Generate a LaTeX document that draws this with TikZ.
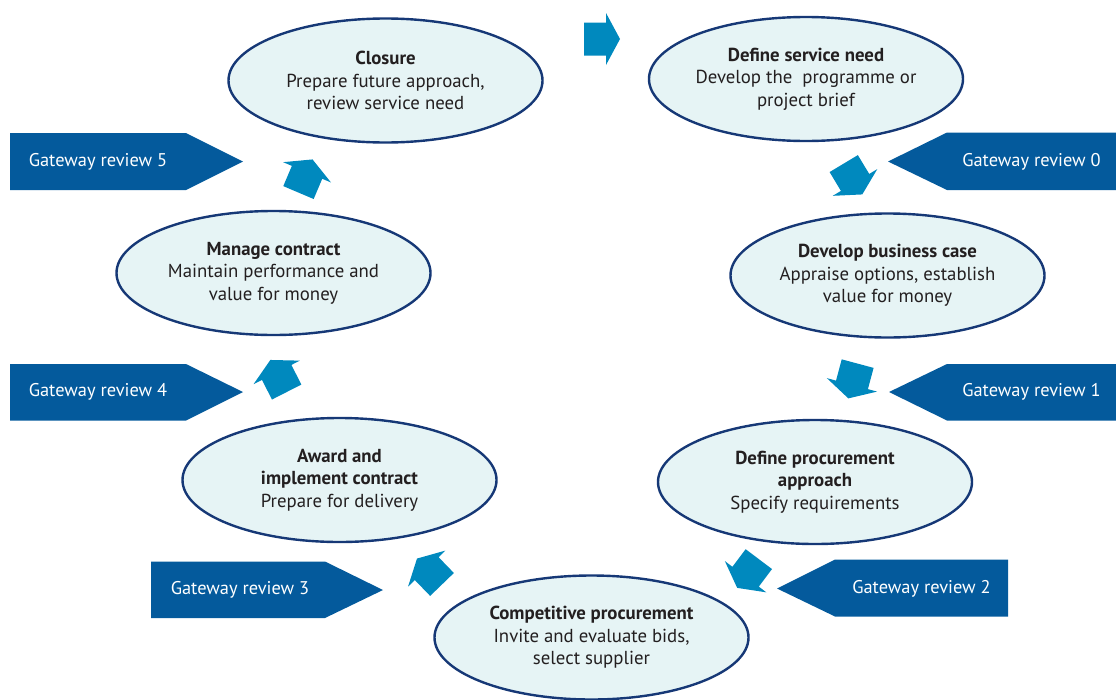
\documentclass[tikz,border=0pt]{standalone}
\usepackage{fontspec}
\setmainfont{PT Sans}
\usetikzlibrary{shapes.geometric}
\definecolor{gatewayblue}{RGB}{4,90,156}
\definecolor{arrowblue}{RGB}{0,137,190}
\definecolor{stagefill}{RGB}{230,244,245}
\definecolor{stageline}{RGB}{22,56,118}
\definecolor{textgray}{RGB}{35,31,32}

\tikzset{
  stage/.style={ellipse, draw=stageline, line width=2.4pt, fill=stagefill,
    minimum width=314pt, minimum height=124pt, inner sep=0pt, align=center,
    text=textgray, font=\fontsize{18.8}{22.6}\selectfont},
  gateway/.style={fill=gatewayblue},
  gatetext/.style={text=white, font=\fontsize{18.4}{22}\selectfont},
  flowarrow/.pic={
    \fill[arrowblue] (-18,-16.5) -- (4,-16.5) -- (4,-26) -- (18,0)
      -- (4,26) -- (4,16.5) -- (-18,16.5) -- cycle;}
}

\begin{document}
\begin{tikzpicture}[x=1pt,y=-1pt]
  \useasboundingbox (0,0) rectangle (1116,699);

  % stages of the cycle
  \node[stage] (close) at (385.5,80.5) {\textbf{Closure}\\Prepare future approach,\\review service need};
  \node[stage] (need) at (806,79) {\textbf{Define service need}\\Develop the~ programme or\\project brief};
  \node[stage] (business) at (887.5,275.5) {\textbf{Develop business case}\\Appraise options, establish\\value for money};
  \node[stage] (approach) at (815,482) {\textbf{Define procurement}\\\textbf{approach}\\Specify requirements};
  \node[stage] (compete) at (591.5,637.5) {\textbf{Competitive procurement}\\Invite and evaluate bids,\\select supplier};
  \node[stage] (award) at (339.5,480) {\textbf{Award and}\\\textbf{implement contract}\\Prepare for delivery};
  \node[stage] (manage) at (273.5,273) {\textbf{Manage contract}\\Maintain performance and\\value for money};

  % gateway reviews
  \fill[gateway] (947,132.5) -- (1116,132.5) -- (1116,190) -- (947,190) -- (888,161.5) -- cycle;
  \node[gatetext] (gr0) at (1031.5,161.5) {Gateway review 0};

  \fill[gateway] (947,364) -- (1116,364) -- (1116,420.5) -- (947,420.5) -- (889,392) -- cycle;
  \node[gatetext] (gr1) at (1031.5,392) {Gateway review 1};

  \fill[gateway] (835,559.5) -- (1008,559.5) -- (1008,616.5) -- (835,616.5) -- (777,588.5) -- cycle;
  \node[gatetext] (gr2) at (921.5,588.5) {Gateway review 2};

  \fill[gateway] (151,561.5) -- (325,561.5) -- (383,590) -- (325,618) -- (151,618) -- cycle;
  \node[gatetext] (gr3) at (240,590) {Gateway review 3};

  \fill[gateway] (10,364) -- (186,364) -- (243,392) -- (186,420.5) -- (10,420.5) -- cycle;
  \node[gatetext] (gr4) at (98,392) {Gateway review 4};

  \fill[gateway] (10,133) -- (186,133) -- (243,161.5) -- (186,190) -- (10,190) -- cycle;
  \node[gatetext] (gr5) at (98,161.5) {Gateway review 5};

  % arrows round the cycle
  \pic at (602,39) {flowarrow};
  \pic[rotate=-59] at (853,179) {flowarrow};
  \pic[rotate=-105] at (853,381) {flowarrow};
  \pic[rotate=-127] at (748,573.5) {flowarrow};
  \pic[rotate=134] at (429.5,571.5) {flowarrow};
  \pic[rotate=117] at (278.5,376) {flowarrow};
  \pic[rotate=67] at (305.5,176) {flowarrow};

\end{tikzpicture}
\end{document}
